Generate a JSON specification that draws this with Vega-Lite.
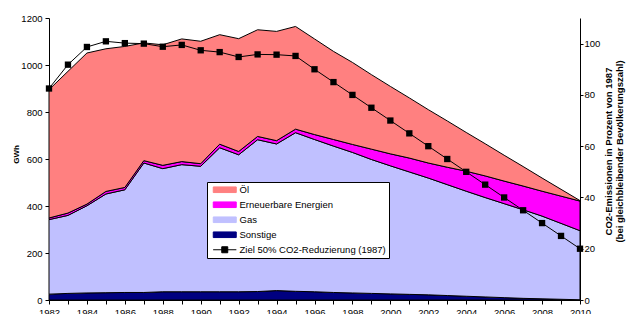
{
  "$schema": "https://vega.github.io/schema/vega-lite/v6.json",
  "width": 531,
  "height": 282,
  "autosize": {"type": "none"},
  "padding": {"left": 49, "top": 18, "right": 52, "bottom": 14},
  "background": "white",
  "config": {
    "font": "Liberation Sans",
    "view": {"stroke": null},
    "axis": {"domainColor": "black", "tickColor": "black", "labelColor": "black", "titleColor": "black", "labelFont": "Liberation Sans", "titleFont": "Liberation Sans", "labelFontSize": 9.5, "grid": false, "labelFlush": false, "labelOverlap": false},
    "legend": {"title": null, "orient": "none", "legendX": 158, "legendY": 164, "padding": 3,
      "strokeColor": "black", "fillColor": "white", "labelFont": "Liberation Sans", "labelFontSize": 9.5, "labelColor": "black",
      "symbolSize": 64, "symbolOffset": 10, "labelOffset": 10, "rowPadding": 4,
      "symbolStrokeColor": "black", "symbolStrokeWidth": 1, "symbolOpacity": 1}
  },
  "datasets": {
    "energy": [
      {"year":1982,"series":"Sonstige","value":25},{"year":1982,"series":"Gas","value":317},{"year":1982,"series":"Erneuerbare Energien","value":7},{"year":1982,"series":"Öl","value":546},
      {"year":1983,"series":"Sonstige","value":28},{"year":1983,"series":"Gas","value":332},{"year":1983,"series":"Erneuerbare Energien","value":10},{"year":1983,"series":"Öl","value":603},
      {"year":1984,"series":"Sonstige","value":30},{"year":1984,"series":"Gas","value":371},{"year":1984,"series":"Erneuerbare Energien","value":7},{"year":1984,"series":"Öl","value":643},
      {"year":1985,"series":"Sonstige","value":31},{"year":1985,"series":"Gas","value":420},{"year":1985,"series":"Erneuerbare Energien","value":11},{"year":1985,"series":"Öl","value":607},
      {"year":1986,"series":"Sonstige","value":32},{"year":1986,"series":"Gas","value":437},{"year":1986,"series":"Erneuerbare Energien","value":10},{"year":1986,"series":"Öl","value":600},
      {"year":1987,"series":"Sonstige","value":32},{"year":1987,"series":"Gas","value":551},{"year":1987,"series":"Erneuerbare Energien","value":10},{"year":1987,"series":"Öl","value":501},
      {"year":1988,"series":"Sonstige","value":35},{"year":1988,"series":"Gas","value":524},{"year":1988,"series":"Erneuerbare Energien","value":14},{"year":1988,"series":"Öl","value":513},
      {"year":1989,"series":"Sonstige","value":35},{"year":1989,"series":"Gas","value":541},{"year":1989,"series":"Erneuerbare Energien","value":13},{"year":1989,"series":"Öl","value":522},
      {"year":1990,"series":"Sonstige","value":35},{"year":1990,"series":"Gas","value":534},{"year":1990,"series":"Erneuerbare Energien","value":11},{"year":1990,"series":"Öl","value":521},
      {"year":1991,"series":"Sonstige","value":35},{"year":1991,"series":"Gas","value":613},{"year":1991,"series":"Erneuerbare Energien","value":15},{"year":1991,"series":"Öl","value":466},
      {"year":1992,"series":"Sonstige","value":35},{"year":1992,"series":"Gas","value":583},{"year":1992,"series":"Erneuerbare Energien","value":14},{"year":1992,"series":"Öl","value":480},
      {"year":1993,"series":"Sonstige","value":36},{"year":1993,"series":"Gas","value":646},{"year":1993,"series":"Erneuerbare Energien","value":14},{"year":1993,"series":"Öl","value":454},
      {"year":1994,"series":"Sonstige","value":40},{"year":1994,"series":"Gas","value":624},{"year":1994,"series":"Erneuerbare Energien","value":14},{"year":1994,"series":"Öl","value":465},
      {"year":1995,"series":"Sonstige","value":37},{"year":1995,"series":"Gas","value":675},{"year":1995,"series":"Erneuerbare Energien","value":15},{"year":1995,"series":"Öl","value":437},
      {"year":1996,"series":"Sonstige","value":35},{"year":1996,"series":"Gas","value":648},{"year":1996,"series":"Erneuerbare Energien","value":21},{"year":1996,"series":"Öl","value":407},
      {"year":1997,"series":"Sonstige","value":32},{"year":1997,"series":"Gas","value":623},{"year":1997,"series":"Erneuerbare Energien","value":28},{"year":1997,"series":"Öl","value":375},
      {"year":1998,"series":"Sonstige","value":30},{"year":1998,"series":"Gas","value":598},{"year":1998,"series":"Erneuerbare Energien","value":34},{"year":1998,"series":"Öl","value":349},
      {"year":1999,"series":"Sonstige","value":28},{"year":1999,"series":"Gas","value":570},{"year":1999,"series":"Erneuerbare Energien","value":44},{"year":1999,"series":"Öl","value":317},
      {"year":2000,"series":"Sonstige","value":26},{"year":2000,"series":"Gas","value":545},{"year":2000,"series":"Erneuerbare Energien","value":51},{"year":2000,"series":"Öl","value":287},
      {"year":2001,"series":"Sonstige","value":24},{"year":2001,"series":"Gas","value":521},{"year":2001,"series":"Erneuerbare Energien","value":59},{"year":2001,"series":"Öl","value":256},
      {"year":2002,"series":"Sonstige","value":22},{"year":2002,"series":"Gas","value":497},{"year":2002,"series":"Erneuerbare Energien","value":64},{"year":2002,"series":"Öl","value":227},
      {"year":2003,"series":"Sonstige","value":19},{"year":2003,"series":"Gas","value":472},{"year":2003,"series":"Erneuerbare Energien","value":74},{"year":2003,"series":"Öl","value":197},
      {"year":2004,"series":"Sonstige","value":16},{"year":2004,"series":"Gas","value":447},{"year":2004,"series":"Erneuerbare Energien","value":85},{"year":2004,"series":"Öl","value":165},
      {"year":2005,"series":"Sonstige","value":13},{"year":2005,"series":"Gas","value":423},{"year":2005,"series":"Erneuerbare Energien","value":92},{"year":2005,"series":"Öl","value":137},
      {"year":2006,"series":"Sonstige","value":10},{"year":2006,"series":"Gas","value":400},{"year":2006,"series":"Erneuerbare Energien","value":96},{"year":2006,"series":"Öl","value":110},
      {"year":2007,"series":"Sonstige","value":7},{"year":2007,"series":"Gas","value":377},{"year":2007,"series":"Erneuerbare Energien","value":101},{"year":2007,"series":"Öl","value":83},
      {"year":2008,"series":"Sonstige","value":5},{"year":2008,"series":"Gas","value":352},{"year":2008,"series":"Erneuerbare Energien","value":106},{"year":2008,"series":"Öl","value":56},
      {"year":2009,"series":"Sonstige","value":3},{"year":2009,"series":"Gas","value":323},{"year":2009,"series":"Erneuerbare Energien","value":116},{"year":2009,"series":"Öl","value":29},
      {"year":2010,"series":"Sonstige","value":1},{"year":2010,"series":"Gas","value":294},{"year":2010,"series":"Erneuerbare Energien","value":126},{"year":2010,"series":"Öl","value":2}
    ],
    "co2": [
      {"year":1982,"pct":82.5},{"year":1983,"pct":91.8},{"year":1984,"pct":98.7},{"year":1985,"pct":100.9},{"year":1986,"pct":100.2},
      {"year":1987,"pct":100},{"year":1988,"pct":98.8},{"year":1989,"pct":99.5},{"year":1990,"pct":97.4},{"year":1991,"pct":96.7},
      {"year":1992,"pct":94.8},{"year":1993,"pct":95.8},{"year":1994,"pct":95.7},{"year":1995,"pct":95.2},{"year":1996,"pct":90},
      {"year":1997,"pct":85},{"year":1998,"pct":80},{"year":1999,"pct":75},{"year":2000,"pct":70},{"year":2001,"pct":65},
      {"year":2002,"pct":60},{"year":2003,"pct":55},{"year":2004,"pct":50},{"year":2005,"pct":45},{"year":2006,"pct":40},
      {"year":2007,"pct":35},{"year":2008,"pct":30},{"year":2009,"pct":25},{"year":2010,"pct":20}
    ]
  },
  "encoding": {
    "x": {"field": "year", "type": "quantitative",
      "scale": {"domain": [1982, 2010], "nice": false, "zero": false},
      "axis": {"title": null, "values": [1982,1983,1984,1985,1986,1987,1988,1989,1990,1991,1992,1993,1994,1995,1996,1997,1998,1999,2000,2001,2002,2003,2004,2005,2006,2007,2008,2009,2010],
        "format": "d", "labelExpr": "datum.value % 2 === 0 ? datum.label : ''", "labelOverlap": false, "labelBound": false, "labelFlush": false, "tickSize": 4, "labelPadding": 3}}
  },
  "layer": [
    {
      "data": {"name": "energy"},
      "transform": [{"window": [{"op": "row_number", "as": "stackRank"}], "groupby": ["year"]}],
      "mark": {"type": "area", "stroke": "black", "strokeWidth": 1, "opacity": 1},
      "encoding": {
        "y": {"field": "value", "type": "quantitative", "stack": "zero",
          "scale": {"domain": [0, 1200], "nice": false},
          "axis": {"title": "GWh", "values": [0,200,400,600,800,1000,1200], "format": "d", "tickSize": 4, "labelPadding": 3,
            "titleFontSize": 8, "titleFontWeight": "bold", "titleAngle": 270, "titleX": -33, "titleY": 136, "titleAlign": "center", "titleBaseline": "middle"}},
        "color": {"field": "series", "type": "nominal",
          "scale": {"domain": ["Öl", "Erneuerbare Energien", "Gas", "Sonstige", "Ziel 50% CO2-Reduzierung (1987)"],
                    "range": ["#FF8080", "#FF00FF", "#C0C0FF", "#000080", "#000000"]},
          "legend": {
            "encode": {"symbols": {"update": {
              "shape": {"signal": "datum.value === 'Ziel 50% CO2-Reduzierung (1987)' ? 'M-2.9,0H2.9M-0.75,-0.75H0.75V0.75H-0.75Z' : 'M-2.875,-0.7H2.875V0.7H-2.875Z'"},
              "fill": {"scale": "color", "field": "value"},
              "stroke": {"value": "black"},
              "strokeWidth": {"value": 1},
              "opacity": {"value": 1}}}}}},
        "order": {"field": "stackRank", "type": "quantitative"}
      }
    },
    {
      "data": {"name": "co2"},
      "mark": {"type": "line", "strokeWidth": 1, "point": {"shape": "square", "size": 40, "filled": true, "opacity": 1}},
      "encoding": {
        "y": {"field": "pct", "type": "quantitative",
          "scale": {"domain": [0, 110], "nice": false},
          "axis": {"orient": "right", "values": [0,20,40,60,80,100], "tickSize": 3, "labelPadding": 1,
            "title": ["CO2-Emissionen in Prozent von 1987", "(bei gleichbleibender Bevölkerungszahl)"],
            "titleFontSize": 9.5, "titleFontWeight": "bold", "titleAngle": 270, "titleX": 28, "titleY": 133, "titleAlign": "center", "titleBaseline": "middle", "titleLineHeight": 11.3,
            "encode": {"ticks": {"update": {"x": {"value": -3}, "x2": {"value": 3}}}}}},
        "color": {"datum": "Ziel 50% CO2-Reduzierung (1987)",
          "legend": {
            "encode": {"symbols": {"update": {
              "shape": {"signal": "datum.value === 'Ziel 50% CO2-Reduzierung (1987)' ? 'M-2.9,0H2.9M-0.75,-0.75H0.75V0.75H-0.75Z' : 'M-2.875,-0.7H2.875V0.7H-2.875Z'"},
              "fill": {"scale": "color", "field": "value"},
              "stroke": {"value": "black"},
              "strokeWidth": {"value": 1},
              "opacity": {"value": 1}}}}}}
      }
    }
  ],
  "resolve": {"scale": {"y": "independent"}}
}
